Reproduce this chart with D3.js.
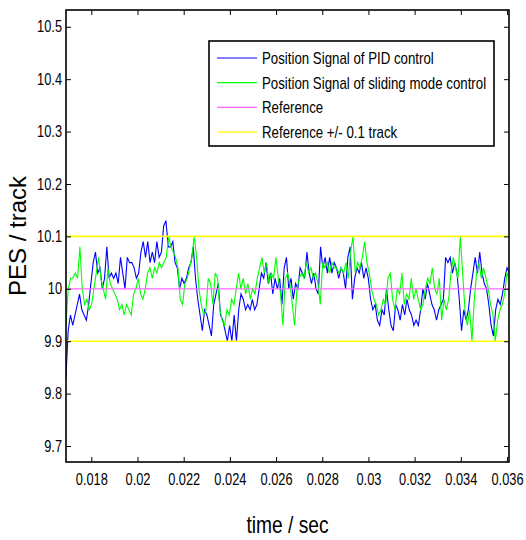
<!DOCTYPE html>
<html>
<head>
<meta charset="utf-8">
<script src="https://cdn.jsdelivr.net/npm/d3@7"></script>
<style>
  body { margin: 0; background: #fff; }
  svg { display: block; }
  .tick-label { font-family: "Liberation Sans", Arial, sans-serif; font-size: 16px; fill: #000; }
  .legend-text { font-family: "Liberation Sans", Arial, sans-serif; font-size: 17px; fill: #000; }
</style>
</head>
<body>
<svg id="chart"></svg>
<script>
// ---- data ----
const tStart = 0.0169;
const tEnd = 0.0361;

const pidSignal = [
  9.83, 9.92, 9.95, 9.93, 9.95, 9.97, 9.99, 9.96, 9.95, 9.94, 9.97, 10.01, 10.05, 10.07, 10.03, 10.04,
  10.0, 10.02, 10.08, 10.02, 10.03, 10.02, 10.03, 10.01, 10.06, 10.03, 10.0, 10.06, 10.05, 10.05, 10.04, 10.02,
  10.03, 10.07, 10.09, 10.06, 10.09, 10.05, 10.07, 10.05, 10.09, 10.06, 10.07, 10.12, 10.13, 10.08, 10.08, 10.09,
  10.05, 10.04, 10.0, 10.02, 10.01, 10.02, 10.04, 10.05, 10.08, 10.02, 9.98, 9.95, 9.92, 9.96, 9.95, 9.93,
  9.91, 9.97, 9.99, 10.01, 9.95, 9.94, 9.92, 9.90, 9.93, 9.90, 9.95, 9.90, 9.96, 9.99, 9.98, 9.96,
  9.97, 9.96, 9.98, 9.96, 9.97, 10.0, 10.03, 10.02, 10.05, 10.01, 10.03, 9.99, 10.02, 10.0, 10.02, 9.97,
  10.04, 10.06, 10.0, 10.02, 9.98, 10.01, 10.0, 10.04, 10.03, 10.02, 10.07, 10.03, 10.01, 10.03, 10.0, 9.99,
  10.08, 10.04, 10.06, 10.03, 10.06, 10.03, 10.05, 10.04, 10.02, 10.04, 10.03, 10.0, 10.06, 10.08, 9.98, 10.02,
  10.04, 10.03, 10.05, 10.02, 10.04, 10.02, 9.98, 9.96, 9.97, 9.94, 9.93, 9.96, 9.95, 10.0, 9.96, 9.93,
  9.92, 9.97, 9.96, 9.94, 9.97, 9.95, 9.98, 9.96, 9.95, 9.93, 9.94, 9.93, 9.96, 10.0, 9.98, 10.01,
  9.99, 9.97, 9.96, 9.94, 9.96, 9.97, 9.98, 10.06, 10.05, 10.06, 10.03, 10.05, 10.03, 9.98, 9.92, 9.96,
  9.94, 9.96, 10.0, 10.03, 10.06, 10.03, 10.07, 10.03, 10.01, 10.0, 9.97, 9.93, 9.91, 9.96, 9.98, 9.97,
  9.99, 10.02, 10.04, 10.03
];

const smcSignal = [
  9.93, 10.0, 10.02, 10.02, 10.03, 10.02, 10.08, 10.0, 9.97, 9.98, 9.96, 9.97, 10.0, 10.03, 10.06, 10.02,
  10.0, 9.98, 10.04, 10.01, 10.0, 9.99, 9.98, 9.96, 9.97, 9.95, 9.97, 9.96, 9.95, 9.99, 10.0, 10.02,
  9.99, 9.98, 10.0, 10.03, 10.04, 10.02, 10.04, 10.03, 10.05, 10.04, 10.05, 10.06, 10.1, 10.08, 10.07, 10.06,
  10.04, 9.98, 9.97, 10.01, 10.02, 10.04, 10.06, 10.1, 10.06, 10.0, 9.97, 9.95, 9.96, 10.02, 10.01, 9.97,
  10.03, 10.02, 9.96, 9.94, 9.93, 9.96, 9.95, 9.98, 9.97, 10.0, 10.03, 10.0, 10.02, 9.99, 10.01, 9.98,
  10.0, 9.99, 10.02, 10.04, 10.06, 10.03, 10.05, 10.01, 10.03, 10.02, 10.06, 10.02, 9.99, 9.93, 10.02, 10.03,
  10.01, 9.97, 9.93, 10.0, 10.02, 10.03, 10.02, 10.05, 10.03, 10.04, 10.02, 10.03, 10.01, 9.97, 10.05, 10.04,
  10.05, 10.03, 10.05, 10.04, 10.04, 10.03, 10.04, 10.03, 10.05, 10.02, 10.07, 10.1, 10.03, 10.05, 10.04, 10.06,
  10.09, 10.05, 10.03, 10.0, 9.98, 9.97, 9.95, 9.96, 9.98, 9.97, 10.02, 10.03, 9.98, 9.96, 10.0, 9.99,
  10.03, 9.97, 9.99, 9.98, 10.02, 9.98, 10.0, 9.98, 9.96, 9.97, 10.0, 10.02, 10.01, 10.04, 10.0, 9.99,
  10.02, 9.94, 9.98, 9.96, 9.98, 10.03, 10.06, 10.04, 10.02, 10.1, 10.03, 9.96, 9.93, 9.96, 9.9, 9.98,
  10.03, 10.05, 10.02, 10.04, 10.02, 10.0, 9.97, 9.95, 9.9, 9.94, 9.96, 9.97, 9.99, 10.03, 10.02
];

const referenceValue = 10;
const bandValues = [9.9, 10.1];

const xTicks = [0.018, 0.02, 0.022, 0.024, 0.026, 0.028, 0.03, 0.032, 0.034, 0.036];
const yTicks = [9.7, 9.8, 9.9, 10, 10.1, 10.2, 10.3, 10.4, 10.5];

const legendLabels = [
  "Position Signal of PID control",
  "Position Signal of sliding mode control",
  "Reference",
  "Reference +/- 0.1 track"
];
const legendColors = ["#0000ff", "#00ff00", "#ff66ff", "#ffff00"];

// ---- layout ----
const width = 526;
const height = 540;
const plot = { left: 66, top: 10, right: 509, bottom: 462 };
// the source picture is squeezed sideways, so horizontal texts get narrowed
const squeeze = 0.8;

const svg = d3.select("#chart")
  .attr("width", width)
  .attr("height", height);

const x = d3.scaleLinear()
  .domain([0.016904, 0.036087])
  .range([plot.left, plot.right]);

const y = d3.scaleLinear()
  .domain([9.6695, 10.532])
  .range([plot.bottom, plot.top]);

function toPoints(values) {
  const step = (tEnd - tStart) / (values.length - 1);
  return values.map((v, i) => [tStart + i * step, v]);
}

function narrow(sel, k = squeeze) {
  sel.each(function() {
    const w = this.getComputedTextLength();
    d3.select(this)
      .attr("textLength", w * k)
      .attr("lengthAdjust", "spacingAndGlyphs");
  });
}

svg.append("clipPath")
  .attr("id", "plotClip")
  .append("rect")
  .attr("x", plot.left)
  .attr("y", plot.top)
  .attr("width", plot.right - plot.left)
  .attr("height", plot.bottom - plot.top);

const lineGen = d3.line()
  .x(d => x(d[0]))
  .y(d => y(d[1]));

const lines = svg.append("g").attr("clip-path", "url(#plotClip)");

lines.append("path")
  .datum(toPoints(pidSignal))
  .attr("d", lineGen)
  .attr("fill", "none")
  .attr("stroke", legendColors[0])
  .attr("stroke-width", 1.1);

lines.append("path")
  .datum(toPoints(smcSignal))
  .attr("d", lineGen)
  .attr("fill", "none")
  .attr("stroke", legendColors[1])
  .attr("stroke-width", 1.1);

lines.append("line")
  .attr("x1", plot.left).attr("x2", plot.right)
  .attr("y1", y(referenceValue)).attr("y2", y(referenceValue))
  .attr("stroke", legendColors[2])
  .attr("stroke-width", 1.3);

lines.selectAll(".band")
  .data(bandValues)
  .join("line")
  .attr("class", "band")
  .attr("x1", plot.left).attr("x2", plot.right)
  .attr("y1", d => y(d)).attr("y2", d => y(d))
  .attr("stroke", legendColors[3])
  .attr("stroke-width", 1.6);

// ---- axes (matlab box, ticks pointing inward) ----
const tickLen = 5;

const axes = svg.append("g");

axes.append("g")
  .attr("transform", `translate(0,${plot.bottom})`)
  .call(d3.axisBottom(x).tickValues(xTicks).tickSizeInner(-tickLen).tickSizeOuter(0).tickPadding(12).tickFormat(d3.format("")))
  .call(g => g.select(".domain").remove())
  .call(g => g.selectAll("text").attr("class", "tick-label").attr("fill", null));

axes.append("g")
  .attr("transform", `translate(0,${plot.top})`)
  .call(d3.axisTop(x).tickValues(xTicks).tickSizeInner(-tickLen).tickSizeOuter(0).tickFormat(""))
  .call(g => g.select(".domain").remove());

axes.append("g")
  .attr("transform", `translate(${plot.left},0)`)
  .call(d3.axisLeft(y).tickValues(yTicks).tickSizeInner(-tickLen).tickSizeOuter(0).tickPadding(4).tickFormat(d3.format("")))
  .call(g => g.select(".domain").remove())
  .call(g => g.selectAll("text").attr("class", "tick-label").attr("fill", null));

axes.append("g")
  .attr("transform", `translate(${plot.right},0)`)
  .call(d3.axisRight(y).tickValues(yTicks).tickSizeInner(-tickLen).tickSizeOuter(0).tickFormat(""))
  .call(g => g.select(".domain").remove());

axes.selectAll(".tick line").attr("stroke", "#000").attr("stroke-width", 1);
axes.selectAll(".tick-label").call(narrow);

axes.append("rect")
  .attr("x", plot.left)
  .attr("y", plot.top)
  .attr("width", plot.right - plot.left)
  .attr("height", plot.bottom - plot.top)
  .attr("fill", "none")
  .attr("stroke", "#000")
  .attr("stroke-width", 1.6);

// axis titles
svg.append("text")
  .attr("x", (plot.left + plot.right) / 2)
  .attr("y", 533)
  .attr("text-anchor", "middle")
  .attr("font-family", "'Liberation Sans', Arial, sans-serif")
  .attr("font-size", 24)
  .text("time / sec")
  .call(narrow);

svg.append("text")
  .attr("transform", `translate(26,${(plot.top + plot.bottom) / 2}) rotate(-90)`)
  .attr("text-anchor", "middle")
  .attr("font-family", "'Liberation Sans', Arial, sans-serif")
  .attr("font-size", 24)
  .text("PES / track");

// ---- legend ----
const legend = svg.append("g").attr("transform", "translate(209,41)");

legend.append("rect")
  .attr("width", 285)
  .attr("height", 105)
  .attr("fill", "#fff")
  .attr("stroke", "#000")
  .attr("stroke-width", 1.6);

const rows = legend.selectAll(".row")
  .data(legendLabels)
  .join("g")
  .attr("class", "row")
  .attr("transform", (d, i) => `translate(0,${17 + i * 24.7})`);

rows.append("line")
  .attr("x1", 8).attr("x2", 48)
  .attr("stroke", (d, i) => legendColors[i])
  .attr("stroke-width", 1.2);

rows.append("text")
  .attr("class", "legend-text")
  .attr("x", 53)
  .attr("y", 6)
  .text(d => d)
  .call(narrow, 0.78);
</script>
</body>
</html>
